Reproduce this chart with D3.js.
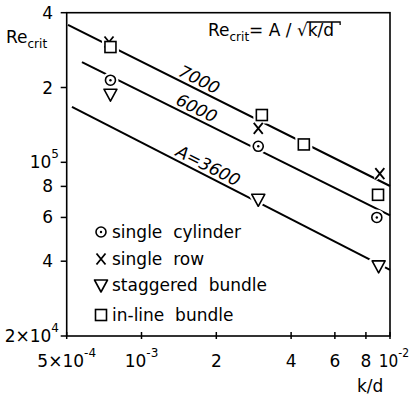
<!DOCTYPE html>
<html><head><meta charset="utf-8">
<script src="https://cdn.jsdelivr.net/npm/d3@7"></script>
<style>
html,body{margin:0;padding:0;background:#fff;}
svg{display:block;}
text{font-family:"DejaVu Sans",sans-serif;fill:#000;}
</style></head>
<body>
<svg id="chart" width="410" height="401"></svg>
<script>
// ---- data ----
const xTicks = [5e-4, 1e-3, 2e-3, 4e-3, 6e-3, 8e-3, 1e-2];
const xTickMain = ["5\u00d710", "10", "2", "4", "6", "8", "10"];
const xTickSup = ["-4", "-3", "", "", "", "", "-2"];
const yTicks = [4e5, 2e5, 1e5, 8e4, 6e4, 4e4, 2e4];
const yTickMain = ["4", "2", "10", "8", "6", "4", "2\u00d710"];
const yTickSup = ["", "", "5", "", "", "", "4"];

const lineNames = ["7000", "6000", "A=3600"];
const lineX0 = [5.06e-4, 5.76e-4, 5.25e-4];
const lineY0 = [3.57e5, 2.53e5, 1.67e5];
const lineX1 = [1e-2, 1e-2, 1e-2];
const lineY1 = [8.03e4, 6.11e4, 3.69e4];
const lineLabelX = [1.64e-3, 1.60e-3, 1.78e-3];

const seriesNames = ["single  cylinder", "single  row", "staggered  bundle", "in-line  bundle"];
const seriesSymbols = ["circle", "cross", "triangle", "square"];
const cylX = [7.5e-4, 2.95e-3, 8.85e-3];
const cylY = [2.14e5, 1.16e5, 6.0e4];
const rowX = [7.4e-4, 2.95e-3, 9.1e-3];
const rowY = [3.05e5, 1.37e5, 9.0e4];
const stagX = [7.5e-4, 2.95e-3, 9.0e-3];
const stagY = [1.88e5, 7.1e4, 3.83e4];
const inlX = [7.5e-4, 3.05e-3, 4.5e-3, 8.95e-3];
const inlY = [2.91e5, 1.55e5, 1.18e5, 7.4e4];
const seriesX = [cylX, rowX, stagX, inlX];
const seriesY = [cylY, rowY, stagY, inlY];

// ---- layout ----
const L = 66.7, R = 390, T = 12.7, B = 336;
const svg = d3.select("#chart");
const x = d3.scaleLog().domain([5e-4, 1e-2]).range([L, R]);
const y = d3.scaleLog().domain([2e4, 4e5]).range([B, T]);

// frame
svg.append("rect").attr("x", L).attr("y", T).attr("width", R - L).attr("height", B - T)
  .attr("fill", "none").attr("stroke", "#000").attr("stroke-width", 1.6);

// x axis ticks
const xAxis = d3.axisBottom(x).tickValues(xTicks).tickSize(0).tickFormat("");
svg.append("g").attr("transform", `translate(0,${B})`).call(xAxis).call(g => g.select(".domain").remove());
svg.append("g").selectAll("line").data(xTicks).join("line")
  .attr("x1", d => x(d)).attr("x2", d => x(d)).attr("y1", B - 4).attr("y2", B + 3)
  .attr("stroke", "#000").attr("stroke-width", 1.5);
const lastI = xTicks.length - 1;
const xl = svg.append("g").selectAll("text").data(xTicks).join("text")
  .attr("x", (d, i) => i === lastI ? 409 : x(d)).attr("y", 367)
  .attr("text-anchor", (d, i) => i === lastI ? "end" : "middle")
  .style("font-family", (d, i) => i === lastI ? "'DejaVu Sans Condensed', sans-serif" : null)
  .attr("font-size", 17);
xl.each(function(d, i) {
  const t = d3.select(this);
  t.append("tspan").text(xTickMain[i]);
  if (xTickSup[i]) t.append("tspan").attr("dy", -10).attr("font-size", 12).text(xTickSup[i]);
});

// y axis ticks
svg.append("g").selectAll("line").data(yTicks).join("line")
  .attr("x1", L - 6).attr("x2", L).attr("y1", d => y(d)).attr("y2", d => y(d))
  .attr("stroke", "#000").attr("stroke-width", 1.5);
const yl = svg.append("g").selectAll("text").data(yTicks).join("text")
  .attr("x", (d, i) => yTickSup[i] ? 59 : 53).attr("y", d => y(d) + 6)
  .attr("text-anchor", "end").attr("font-size", 17);
yl.each(function(d, i) {
  const t = d3.select(this);
  t.append("tspan").text(yTickMain[i]);
  if (yTickSup[i]) t.append("tspan").attr("dy", -10).attr("font-size", 12).text(yTickSup[i]);
});

// axis titles
const yt = svg.append("text").attr("x", 6).attr("y", 43).attr("font-size", 17);
yt.append("tspan").text("Re");
yt.append("tspan").attr("dy", 5).attr("font-size", 12).text("crit");
svg.append("text").attr("x", 357).attr("y", 392).attr("font-size", 17).text("k/d");

// formula
const f = svg.append("text").attr("x", 208).attr("y", 36).attr("font-size", 17);
f.append("tspan").text("Re");
f.append("tspan").attr("dy", 5).attr("font-size", 12).text("crit");
f.append("tspan").attr("dy", -5).text("= A / \u221a");
const fw = f.node().getComputedTextLength();
const kd = svg.append("text").attr("x", 208 + fw).attr("y", 36).attr("font-size", 17).text("k/d");
const kw = kd.node().getComputedTextLength();
svg.append("path").attr("d", `M${208 + fw - 1},${22} H${208 + fw + kw + 6} v3`)
  .attr("fill", "none").attr("stroke", "#000").attr("stroke-width", 1.3);

// reference lines
const lines = svg.append("g");
lineNames.forEach((n, i) => {
  lines.append("line")
    .attr("x1", x(lineX0[i])).attr("y1", y(lineY0[i]))
    .attr("x2", x(lineX1[i])).attr("y2", y(lineY1[i]))
    .attr("stroke", "#000").attr("stroke-width", 2);
  const ang = Math.atan2(y(lineY1[i]) - y(lineY0[i]), x(lineX1[i]) - x(lineX0[i])) * 180 / Math.PI;
  const t = (Math.log(lineLabelX[i]) - Math.log(lineX0[i])) / (Math.log(lineX1[i]) - Math.log(lineX0[i]));
  const ly = Math.exp(Math.log(lineY0[i]) + t * (Math.log(lineY1[i]) - Math.log(lineY0[i])));
  lines.append("text")
    .attr("transform", `translate(${x(lineLabelX[i])},${y(ly)}) rotate(${ang})`)
    .attr("y", -4).attr("text-anchor", "middle").attr("font-size", 17)
    .attr("font-style", "italic").text(n);
});

// markers
function drawSymbol(g, sym, cx, cy, halo) {
  const sw = halo ? 6 : 1.6;
  const col = halo ? "#fff" : "#000";
  if (sym === "circle") {
    g.append("circle").attr("cx", cx).attr("cy", cy).attr("r", 5)
      .attr("fill", "#fff").attr("stroke", col).attr("stroke-width", sw);
    if (!halo) g.append("circle").attr("cx", cx).attr("cy", cy).attr("r", 1.2).attr("fill", "#000");
  } else if (sym === "square") {
    g.append("rect").attr("x", cx - 5.5).attr("y", cy - 5.5).attr("width", 11).attr("height", 11)
      .attr("fill", "#fff").attr("stroke", col).attr("stroke-width", sw);
  } else if (sym === "triangle") {
    g.append("path").attr("d", `M${cx - 6.5},${cy - 5} H${cx + 6.5} L${cx},${cy + 7} Z`)
      .attr("fill", "#fff").attr("stroke", col).attr("stroke-width", sw).attr("stroke-linejoin", "round");
  } else if (sym === "cross") {
    g.append("path").attr("d", `M${cx - 4.5},${cy - 5.5} L${cx + 4.5},${cy + 5.5} M${cx + 4.5},${cy - 5.5} L${cx - 4.5},${cy + 5.5}`)
      .attr("fill", "none").attr("stroke", col).attr("stroke-width", halo ? 4 : 1.8);
  }
}
const mg = svg.append("g");
[true, false].forEach(halo => {
  seriesSymbols.forEach((s, si) => {
    seriesX[si].forEach((xv, j) => drawSymbol(mg, s, x(xv), y(seriesY[si][j]), halo));
  });
});

// legend
const lg = svg.append("g");
const legY = [232, 259, 285, 315];
seriesNames.forEach((n, i) => {
  drawSymbol(lg, seriesSymbols[i], 101, legY[i], false);
  lg.append("text").attr("x", 112).attr("y", legY[i] + 6).attr("font-size", 17)
    .attr("xml:space", "preserve").style("white-space", "pre").text(n);
});
</script>
</body></html>
